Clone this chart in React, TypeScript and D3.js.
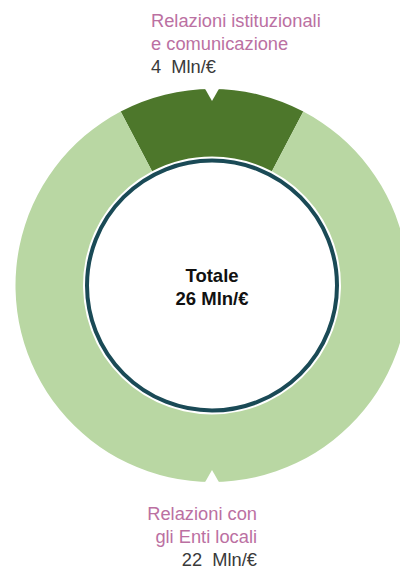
import React from "react";
import * as d3 from "d3";

const categories = ["Relazioni istituzionali e comunicazione", "Relazioni con gli Enti locali"];
const values = [4, 22];
const totalLabel = ["Totale", "26 Mln/€"];
const topLabel = ["Relazioni istituzionali", "e comunicazione"];
const topValue = "4  Mln/€";
const bottomLabel = ["Relazioni con", "gli Enti locali"];
const bottomValue = "22  Mln/€";
const colors = ["#4d772b", "#b9d7a3"];

export default function App() {
  const W = 400, H = 569;
  const cx = 212, cy = 285.5;
  const R = 196.5, r = 129;
  const total = d3.sum(values);
  const half = (Math.PI * values[0]) / total;
  const pie = d3
    .pie<number>()
    .sort(null)
    .value((d) => d)
    .startAngle(-half)
    .endAngle(2 * Math.PI - half);
  const arcs = pie(values);
  const arc = d3.arc<d3.PieArcDatum<number>>().innerRadius(r).outerRadius(R);

  const notch = (angle: number) => {
    const hw = 7.5, depth = 12;
    const a = angle;
    const p = (rad: number, off: number) => {
      const x = Math.sin(a) * rad + Math.cos(a) * off;
      const y = -Math.cos(a) * rad + Math.sin(a) * off;
      return [x, y];
    };
    const pts = [p(R + 2, -hw - 0.5), p(R + 2, hw + 0.5), p(R - depth, 0)];
    return "M" + pts.map((q) => q.join(",")).join("L") + "Z";
  };

  const font = "'Liberation Sans', Arial, Helvetica, sans-serif";
  const mauve = "#bb70a2";
  const gray = "#3a3a3a";

  return (
    <svg
      width={W}
      height={H}
      style={{ position: "absolute", left: 0, top: 0, background: "#fff" }}
    >
      <g transform={`translate(${cx},${cy})`}>
        {arcs.map((a, i) => (
          <path key={categories[i]} d={arc(a) || ""} fill={colors[i]} />
        ))}
        <path d={notch(0)} fill="#fff" />
        <path d={notch(Math.PI)} fill="#fff" />
        <circle r={125} fill="#fff" stroke="#1a4a56" strokeWidth={4} />
        <text
          textAnchor="middle"
          fontFamily={font}
          fontWeight="bold"
          fontSize={18.5}
          fill="#111"
        >
          <tspan x={0} y={282 - cy}>{totalLabel[0]}</tspan>
          <tspan x={0} y={305 - cy}>{totalLabel[1]}</tspan>
        </text>
      </g>
      <g fontFamily={font} fontSize={18.3}>
        <text x={151} y={27} fill={mauve}>{topLabel[0]}</text>
        <text x={151} y={50} fill={mauve}>{topLabel[1]}</text>
        <text x={151} y={73} fill={gray} style={{ whiteSpace: "pre" }}>{topValue}</text>
        <text x={257} y={520} fill={mauve} textAnchor="end">{bottomLabel[0]}</text>
        <text x={257} y={543} fill={mauve} textAnchor="end">{bottomLabel[1]}</text>
        <text x={257} y={566} fill={gray} textAnchor="end" style={{ whiteSpace: "pre" }}>{bottomValue}</text>
      </g>
    </svg>
  );
}
